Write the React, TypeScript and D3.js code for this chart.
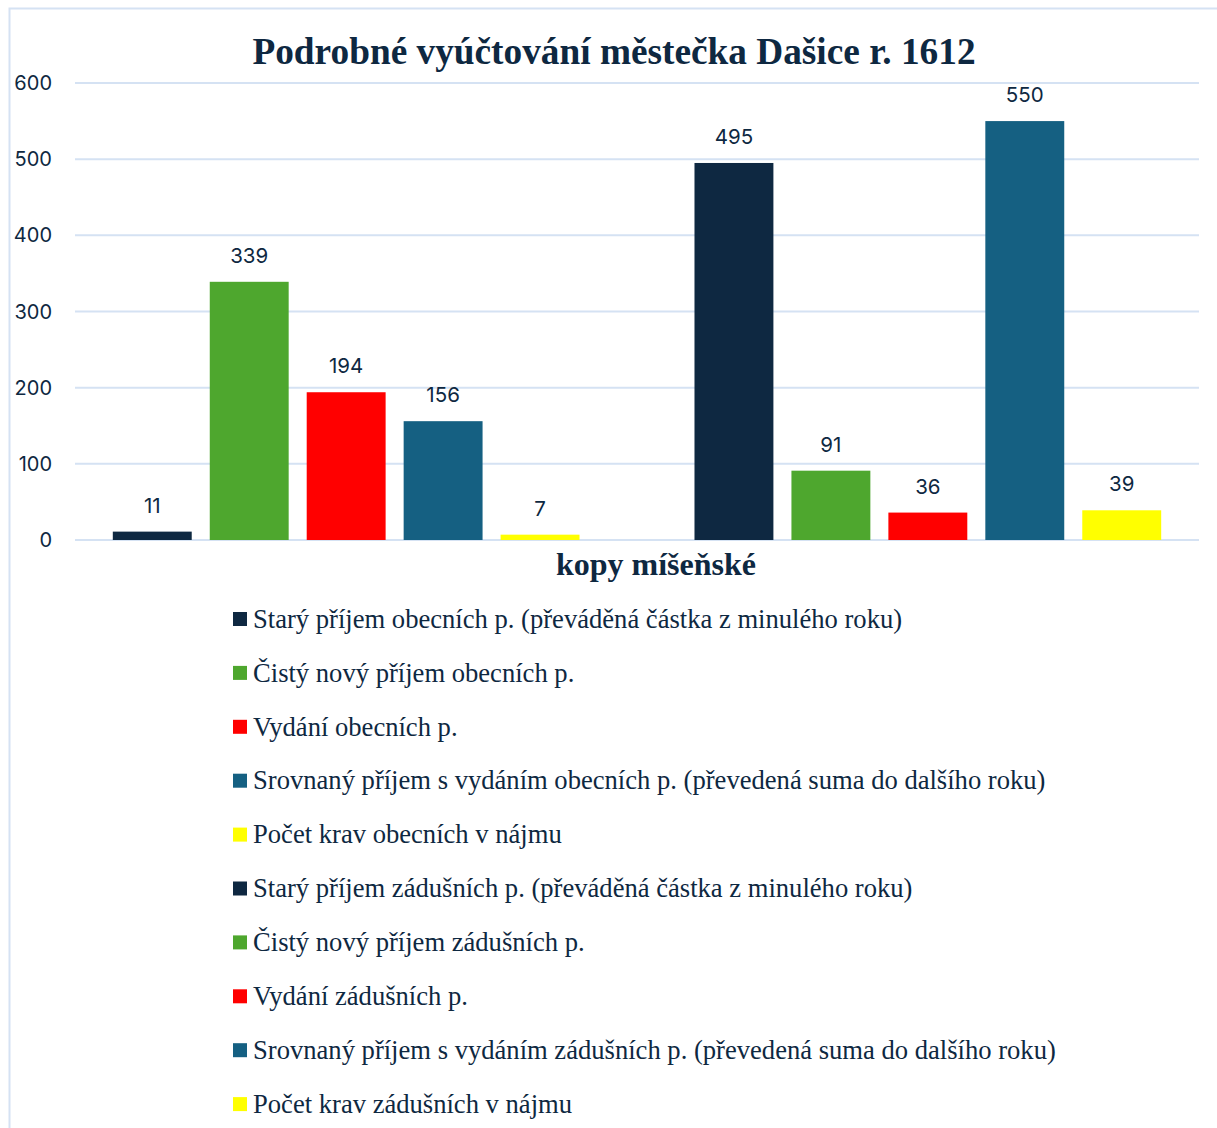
import React from 'react'
import * as d3 from 'd3'

const W = 1217
const H = 1128

// series (one bar each), the empty slot separates obecní / zádušní
const seriesNames = [
  'Starý příjem obecních p. (převáděná částka z minulého roku)',
  'Čistý nový příjem obecních p.',
  'Vydání obecních p.',
  'Srovnaný příjem s vydáním obecních p. (převedená suma do dalšího roku)',
  'Počet krav obecních v nájmu',
  'Starý příjem zádušních p. (převáděná částka z minulého roku)',
  'Čistý nový příjem zádušních p.',
  'Vydání zádušních p.',
  'Srovnaný příjem s vydáním zádušních p. (převedená suma do dalšího roku)',
  'Počet krav zádušních v nájmu',
]
const seriesValues = [11, 339, 194, 156, 7, 495, 91, 36, 550, 39]
const seriesColors = [
  '#0e2841', '#4ea72e', '#ff0000', '#156082', '#ffff00',
  '#0e2841', '#4ea72e', '#ff0000', '#156082', '#ffff00',
]
const yTicks = [0, 100, 200, 300, 400, 500, 600]
const title = 'Podrobné vyúčtování městečka Dašice r. 1612'
const axisTitle = 'kopy míšeňské'

const textColor = '#0e2841'
const gridColor = '#d5e2f3'

const App = () => {
  const plot = { left: 75, right: 1199, top: 83, bottom: 540 }

  // 11 slots: 5 bars, a gap, 5 bars
  const slots = ['s0', 's1', 's2', 's3', 's4', 'gap', 's5', 's6', 's7', 's8', 's9']

  const x = d3
    .scaleBand()
    .domain(slots)
    .range([plot.left, plot.right])
    .paddingInner(0.186)
    .paddingOuter(0.39)

  const y = d3.scaleLinear().domain([0, 600]).range([plot.bottom, plot.top])

  const sans = 'Inter, "Open Sans", "DejaVu Sans", sans-serif'
  const serif = '"Liberation Serif", "Times New Roman", serif'

  return (
    <svg
      width={W}
      height={H}
      style={{ position: 'absolute', left: 0, top: 0, background: '#fff' }}
    >
      {/* chart frame, runs off the page on right and bottom */}
      <rect x={9.5} y={8.5} width={W + 20} height={H + 20} fill='#fff' stroke={gridColor} strokeWidth={2} />

      <text
        x={614}
        y={64}
        textAnchor='middle'
        fontFamily={serif}
        fontWeight='bold'
        fontSize={37.3}
        fill={textColor}
      >
        {title}
      </text>

      {/* gridlines + tick labels */}
      {yTicks.map((t) => (
        <g key={t}>
          <line
            x1={plot.left}
            x2={plot.right}
            y1={y(t)}
            y2={y(t)}
            stroke={gridColor}
            strokeWidth={2}
          />
          <text
            x={52}
            y={y(t)}
            dy='0.35em'
            textAnchor='end'
            fontFamily={sans}
            fontSize={20}
            fill={textColor}
          >
            {t}
          </text>
        </g>
      ))}

      {/* bars */}
      {seriesValues.map((v, i) => {
        const bx = x('s' + i)
        return (
          <g key={i}>
            <rect
              x={bx}
              y={y(v)}
              width={x.bandwidth()}
              height={y(0) - y(v)}
              fill={seriesColors[i]}
            />
            <text
              x={bx + x.bandwidth() / 2}
              y={y(v) - 19}
              textAnchor='middle'
              fontFamily={sans}
              fontSize={20.5}
              fill={textColor}
            >
              {v}
            </text>
          </g>
        )
      })}

      <text
        x={656}
        y={575}
        textAnchor='middle'
        fontFamily={serif}
        fontWeight='bold'
        fontSize={32}
        fill={textColor}
      >
        {axisTitle}
      </text>

      {/* legend */}
      {seriesNames.map((name, i) => {
        const ly = 619 + i * 53.9
        return (
          <g key={name}>
            <rect x={233} y={ly - 7} width={14} height={14} fill={seriesColors[i]} />
            <text
              x={253}
              y={ly}
              dy='0.33em'
              fontFamily={serif}
              fontSize={26.6}
              fill={textColor}
            >
              {name}
            </text>
          </g>
        )
      })}
    </svg>
  )
}

export default App
